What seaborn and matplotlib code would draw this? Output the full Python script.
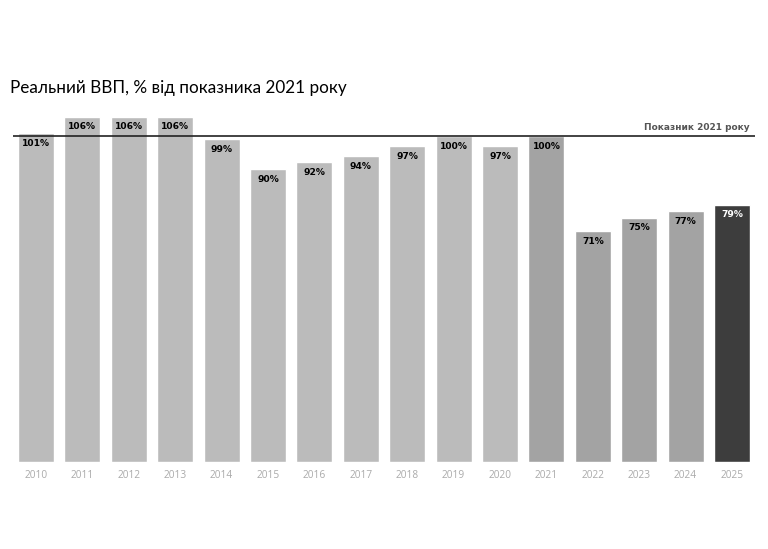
import pandas as pd
import matplotlib.pyplot as plt
import seaborn as sns

# Data
years = ['2010', '2011', '2012', '2013', '2014', '2015', '2016', '2017',
         '2018', '2019', '2020', '2021', '2022', '2023', '2024', '2025']
gdp_pct = [101, 106, 106, 106, 99, 90, 92, 94, 97, 100, 97, 100, 71, 75, 77, 79]
bar_colors = ['#bbbbbb'] * 11 + ['#a3a3a3'] * 4 + ['#3d3d3d']
label_colors = ['black'] * 15 + ['white']

title = 'Реальний ВВП, % від показника 2021 року'
ref_label = 'Показник 2021 року'
ref_value = 100

df = pd.DataFrame({'Year': years, 'GDP': gdp_pct})

sns.set_style('white')
plt.rcParams['font.family'] = ['Open Sans', 'DejaVu Sans']

fig = plt.figure(figsize=(7.68, 5.49), dpi=100)
ax = fig.add_axes([12.8 / 768, 87 / 549, (755.2 - 12.8) / 768, 0.653])

sns.barplot(data=df, x='Year', y='GDP', hue='Year', palette=bar_colors,
            width=0.78, legend=False, ax=ax, saturation=1)

ax.set_xlim(-0.5, len(years) - 0.5)
ax.set_ylim(0, 110)

# Reference line for 2021
ax.axhline(ref_value, color='#222222', linewidth=1.2, zorder=3)
ax.text(len(years) - 0.62, ref_value + 1.3, ref_label, ha='right', va='bottom',
        fontsize=6.5, fontweight='bold', color='#555555',
        family=['DejaVu Sans'])

# Value labels inside bars
for i, (v, c) in enumerate(zip(gdp_pct, label_colors)):
    ax.annotate(f'{v}%', xy=(i, v), xytext=(0, -7.5), textcoords='offset points',
                ha='center', va='center', fontsize=6.6, fontweight='bold',
                color=c, zorder=4, family=['DejaVu Sans'])

ax.set_xlabel('')
ax.set_ylabel('')
ax.set_yticks([])
ax.tick_params(axis='x', length=0, pad=6, labelsize=7.3, labelcolor='#aaaaaa')
sns.despine(ax=ax, left=True, bottom=True)

fig.text(10 / 768, 1 - 88 / 549, title, fontsize=12.3, color='black',
         family=['Lato', 'DejaVu Sans'], ha='left', va='center')

fig.savefig('out.png', dpi=100)
